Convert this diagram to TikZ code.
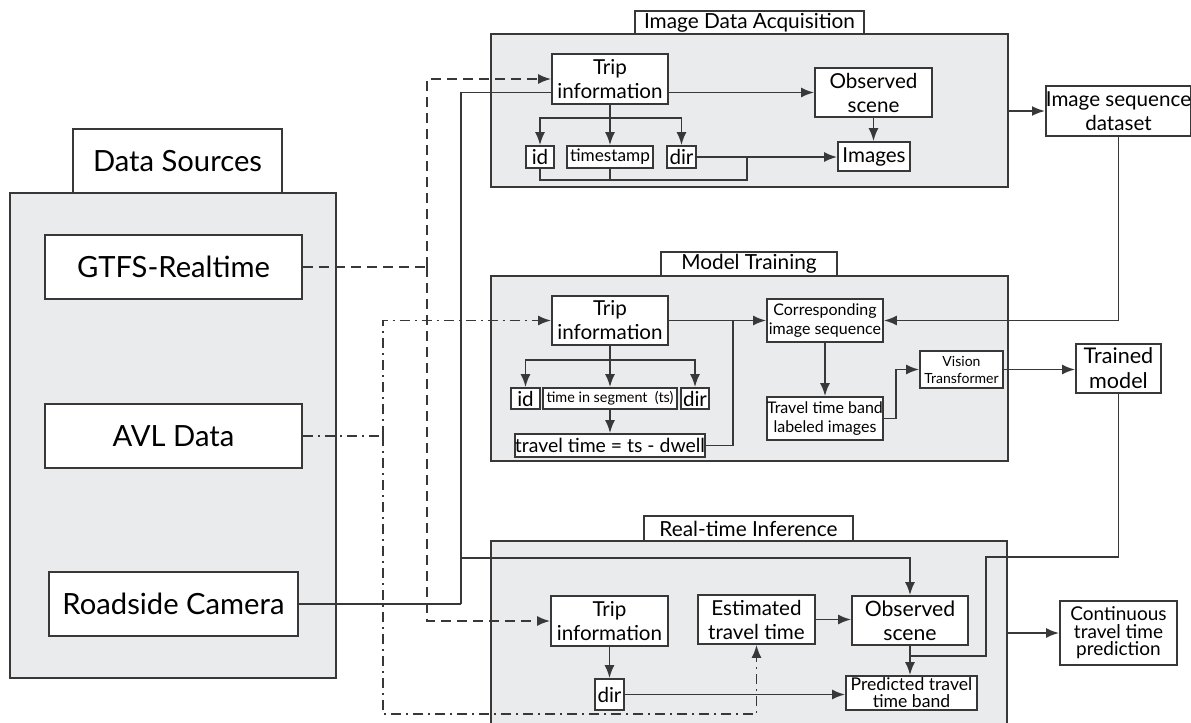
\documentclass[tikz,border=0pt]{standalone}
\usepackage{fontspec}
\setmainfont{Lato}
\usetikzlibrary{arrows.meta}
\definecolor{linec}{HTML}{383838}
\definecolor{panelc}{HTML}{E9EBEC}
\pgfdeclarelayer{panellayer}
\pgfdeclarelayer{linklayer}
\pgfsetlayers{panellayer,linklayer,main}

\begin{document}
\begin{tikzpicture}[x=0.5pt, y=-0.5pt, >={Latex[length=6.5pt,width=5pt]},
    panel/.style={draw=linec, fill=panelc, line width=1pt, inner sep=0pt},
    tab/.style={draw=linec, fill=white, line width=0.9pt, inner sep=0pt, font=\fontsize{10.4}{12}\selectfont},
    blk/.style={draw=linec, fill=white, line width=0.9pt, inner sep=0pt, align=center, font=\fontsize{10.3}{12}\selectfont},
    src/.style={blk, font=\fontsize{14.6}{16}\selectfont, minimum height=32pt},
    link/.style={draw=linec, line width=0.9pt},
    dashlink/.style={link, dash pattern=on 5pt off 3pt},
    dotlink/.style={link, dash pattern=on 5pt off 2.5pt on 1pt off 2.5pt}]

  \useasboundingbox (0,0) rectangle (1191,723);

  \begin{pgfonlayer}{panellayer}
    \node[panel, minimum width=163pt, minimum height=242.5pt] (dsp) at (173,435.5) {};
    \node[panel, minimum width=258.5pt, minimum height=76.5pt] (iap) at (749.5,110.5) {};
    \node[panel, minimum width=258.5pt, minimum height=92.5pt] (mtp) at (749.5,368.5) {};
    \node[panel, minimum width=258pt, minimum height=99.5pt] (rip) at (749,640.5) {};
  \end{pgfonlayer}

  \node[tab, font=\fontsize{14.6}{16}\selectfont, minimum width=104.5pt, minimum height=32pt] (dstab) at (177.5,161) {Data Sources};
  \node[tab, minimum width=114.5pt, minimum height=11.5pt] (iatab) at (749.5,22.5) {Image Data Acquisition};
  \node[tab, minimum width=88pt, minimum height=12pt] (mttab) at (749,264) {Model Training};
  \node[tab, minimum width=104.5pt, minimum height=12.5pt] (ritab) at (748.5,528.5) {Real-time Inference};

  \node[src, minimum width=128.5pt] (gtfs) at (173.5,267) {GTFS-Realtime};
  \node[src, minimum width=128.5pt] (avl) at (173.5,436) {AVL Data};
  \node[src, minimum width=124.5pt] (cam) at (173.5,604) {Roadside Camera};

  \node[blk, minimum width=58pt, minimum height=25pt] (trip1) at (610,79) {Trip\\information};
  \node[blk, minimum width=14pt, minimum height=11pt] (id1) at (540,157) {id};
  \node[blk, font=\fontsize{8.6}{10}\selectfont, minimum width=43pt, minimum height=11pt] (ts1) at (610,157) {timestamp};
  \node[blk, minimum width=14.5pt, minimum height=11pt] (dir1) at (681.5,157) {dir};
  \node[blk, minimum width=58.5pt, minimum height=24.5pt] (obs1) at (873.5,92.5) {Observed\\scene};
  \node[blk, minimum width=36pt, minimum height=14.5pt] (img1) at (874,156.5) {Images};
  \node[blk, minimum width=71.5pt, minimum height=25pt] (isd) at (1118.5,111) {Image sequence\\dataset};

  \node[blk, minimum width=58pt, minimum height=24.5pt] (trip2) at (610,320.5) {Trip\\information};
  \node[blk, minimum width=14.5pt, minimum height=10.5pt] (id2) at (525.5,398.5) {id};
  \node[blk, font=\fontsize{7.2}{9}\selectfont, minimum width=67pt, minimum height=10.5pt] (seg2) at (610,398.5) {time in segment\ \ (ts)};
  \node[blk, minimum width=14pt, minimum height=10.5pt] (dir2) at (695,398.5) {dir};
  \node[blk, font=\fontsize{9.7}{11}\selectfont, minimum width=91pt, minimum height=11.5pt] (tt2) at (610,445.5) {travel time = ts - dwell};
  \node[blk, font=\fontsize{8}{9.5}\selectfont, minimum width=58pt, minimum height=21.5pt] (cis) at (825,320.5) {Corresponding\\image sequence};
  \node[blk, font=\fontsize{8}{9.5}\selectfont, minimum width=58pt, minimum height=21.5pt] (ttb) at (825,418.5) {Travel time band\\labeled images};
  \node[blk, font=\fontsize{7}{8.5}\selectfont, minimum width=41.5pt, minimum height=18.5pt] (vit) at (961.5,369.5) {Vision\\Transformer};
  \node[blk, font=\fontsize{10.8}{12.5}\selectfont, minimum width=42.5pt, minimum height=24.5pt] (trm) at (1118.5,368.5) {Trained\\model};

  \node[blk, minimum width=58.5pt, minimum height=25pt] (trip3) at (609.5,621) {Trip\\information};
  \node[blk, minimum width=14.5pt, minimum height=15.5pt] (dir3) at (609.5,694.5) {dir};
  \node[blk, minimum width=58.5pt, minimum height=24.5pt] (est) at (756.5,619.5) {Estimated\\travel time};
  \node[blk, font=\fontsize{10.6}{12}\selectfont, minimum width=58pt, minimum height=24.5pt] (obs3) at (910,620.5) {Observed\\scene};
  \node[blk, font=\fontsize{8.8}{8.5}\selectfont, minimum width=65.5pt, minimum height=17pt] (pred) at (911.5,693) {Predicted travel\\time band};
  \node[blk, font=\fontsize{9.5}{8.7}\selectfont, minimum width=58.5pt, minimum height=32pt] (ctp) at (1118.5,633) {Continuous\\travel time\\prediction};

  \begin{pgfonlayer}{linklayer}
    \coordinate (gj) at (427,267);
    \coordinate (aj) at (383,436);
    \coordinate (cj) at (461,604);
    \coordinate (b1) at (610,118);
    \coordinate (m1) at (747,180);
    \coordinate (m1b) at (747,157);
    \coordinate (b2) at (610,360);
    \coordinate (m2) at (733,320.5);
    \coordinate (m3) at (910,656);

    \draw[dashlink] (gtfs) -- (gj);
    \draw[dashlink, ->] (gj) |- (trip1);
    \draw[dashlink, ->] (gj) |- (trip3);
    \draw[dotlink] (avl) -- (aj);
    \draw[dotlink, ->] (aj) |- (trip2);
    \draw[dotlink, ->] (aj) -- (383,714) -| (est);
    \draw[link] (cam) -- (cj);
    \draw[link, ->] (cj) |- (obs1);
    \draw[link, ->] (cj) -- (461,558) -| (obs3);

    \draw[link] (trip1) -- (b1);
    \draw[link, ->] (b1) -| (id1);
    \draw[link, ->] (b1) -- (ts1);
    \draw[link, ->] (b1) -| (dir1);
    \draw[link] (id1) |- (m1) -- (m1b);
    \draw[link] (ts1) -- (ts1 |- m1);
    \draw[link, ->] (dir1) -- (dir1 -| img1.west);
    \draw[link, ->] (obs1) -- (obs1 |- img1.north);
    \draw[link, ->] (iap.east |- isd) -- (isd);
    \draw[link, ->] (isd) |- (cis);

    \draw[link, ->] (trip2) -- (cis);
    \draw[link] (trip2) -- (b2);
    \draw[link, ->] (b2) -| (id2);
    \draw[link, ->] (b2) -- (seg2);
    \draw[link, ->] (b2) -| (dir2);
    \draw[link, ->] (seg2) -- (tt2);
    \draw[link] (tt2) -| (m2);
    \draw[link, ->] (cis) -- (ttb);
    \draw[link, ->] (ttb.east) -- ++(12,0) |- (vit);
    \draw[link, ->] (vit) -- (vit -| trm.west);
    \draw[link] (trm) |- (986,557) |- (m3);

    \draw[link, ->] (trip3) -- (dir3);
    \draw[link, ->] (dir3) -- (dir3 -| pred.west);
    \draw[link, ->] (est) -- (est -| obs3.west);
    \draw[link, ->] (obs3) -- (obs3 |- pred.north);
    \draw[link, ->] (rip.east |- ctp) -- (ctp);
  \end{pgfonlayer}
\end{tikzpicture}
\end{document}
